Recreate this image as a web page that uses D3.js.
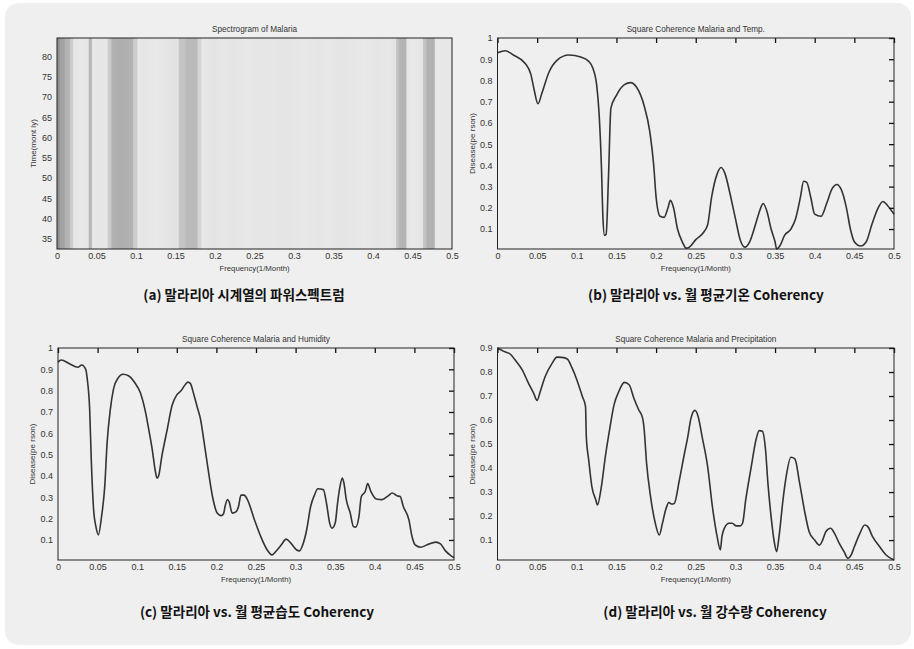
<!DOCTYPE html>
<html>
<head>
<meta charset="utf-8">
<script src="https://cdn.jsdelivr.net/npm/d3@7"></script>
<style>
  body { margin: 0; background: #ffffff; }
  text { font-family: "Liberation Sans", Arial, sans-serif; }
  .cap { font-family: "Noto Sans CJK KR", sans-serif; font-weight: 700; }
</style>
</head>
<body>
<div id="mychart"></div>
<script>
// ---- data ----
var freqTicks = [0, 0.05, 0.1, 0.15, 0.2, 0.25, 0.3, 0.35, 0.4, 0.45, 0.5];
var timeTicks = [35, 40, 45, 50, 55, 60, 65, 70, 75, 80];
var cohTicks10 = [0.1, 0.2, 0.3, 0.4, 0.5, 0.6, 0.7, 0.8, 0.9, 1];
var cohTicks9 = [0.1, 0.2, 0.3, 0.4, 0.5, 0.6, 0.7, 0.8, 0.9];

// spectrogram: relative power per frequency (constant over time)
var specFreq = [0, 0.003, 0.0045, 0.009, 0.0105, 0.0155, 0.017, 0.0195, 0.021, 0.03, 0.0395, 0.041, 0.0435, 0.045,
  0.0635, 0.065, 0.068, 0.0695, 0.08, 0.0955, 0.097, 0.101, 0.1025, 0.11, 0.125, 0.14, 0.1535, 0.155, 0.1625, 0.164,
  0.177, 0.1785, 0.182, 0.1835, 0.19, 0.2, 0.21, 0.225, 0.24, 0.255, 0.27, 0.285, 0.3, 0.315, 0.33, 0.345, 0.36,
  0.375, 0.39, 0.405, 0.42, 0.4285, 0.43, 0.4325, 0.434, 0.4415, 0.443, 0.452, 0.4625, 0.464, 0.467, 0.4685,
  0.4775, 0.479, 0.5];
var specPower = [0.98, 0.92, 0.78, 0.76, 0.6, 0.58, 0.35, 0.33, 0.06, 0.03, 0.05, 0.55, 0.55, 0.04,
  0.05, 0.33, 0.35, 0.6, 0.64, 0.6, 0.33, 0.33, 0.03, 0.06, 0.03, 0.07, 0.1, 0.4, 0.42, 0.52,
  0.52, 0.25, 0.24, 0.03, 0.05, 0.08, 0.04, 0.07, 0.03, 0.06, 0.04, 0.07, 0.05, 0.03, 0.06, 0.04, 0.07,
  0.05, 0.03, 0.06, 0.04, 0.08, 0.42, 0.44, 0.58, 0.58, 0.05, 0.02, 0.06, 0.4, 0.42, 0.6,
  0.6, 0.04, 0.04];

// (b) malaria vs temperature
var freqB = [0, 0.01, 0.02, 0.035, 0.042, 0.046, 0.051, 0.056, 0.065, 0.075, 0.09, 0.105, 0.115, 0.12, 0.125, 0.128,
  0.131, 0.133, 0.135, 0.137, 0.14, 0.143, 0.15, 0.16, 0.168, 0.175, 0.185, 0.192, 0.197, 0.2, 0.205, 0.21, 0.215,
  0.218, 0.222, 0.227, 0.233, 0.238, 0.242, 0.25, 0.26, 0.265, 0.27, 0.277, 0.282, 0.287, 0.293, 0.3, 0.306, 0.312,
  0.318, 0.326, 0.331, 0.335, 0.34, 0.345, 0.35, 0.352, 0.356, 0.362, 0.37, 0.376, 0.382, 0.386, 0.39, 0.395, 0.4,
  0.408, 0.415, 0.422, 0.428, 0.433, 0.44, 0.445, 0.45, 0.458, 0.465, 0.472, 0.48, 0.486, 0.492, 0.5];
var cohB = [0.93, 0.94, 0.92, 0.88, 0.83, 0.76, 0.69, 0.74, 0.84, 0.895, 0.92, 0.91, 0.89, 0.86, 0.78, 0.65,
  0.4, 0.15, 0.07, 0.075, 0.35, 0.67, 0.73, 0.78, 0.79, 0.77, 0.68, 0.56, 0.4, 0.25, 0.16, 0.155, 0.2,
  0.235, 0.2, 0.1, 0.04, 0.01, 0.015, 0.05, 0.085, 0.12, 0.25, 0.36, 0.39, 0.36, 0.27, 0.15, 0.05, 0.015,
  0.04, 0.13, 0.19, 0.22, 0.18, 0.1, 0.04, 0.006, 0.02, 0.07, 0.1, 0.15, 0.25, 0.325, 0.32, 0.25, 0.17,
  0.16, 0.22, 0.29, 0.31, 0.29, 0.2, 0.1, 0.04, 0.02, 0.04, 0.12, 0.2, 0.23, 0.21, 0.17];

// (c) malaria vs humidity
var freqC = [0, 0.004, 0.015, 0.025, 0.03, 0.035, 0.037, 0.04, 0.042, 0.045, 0.048, 0.051, 0.055, 0.059, 0.062,
  0.066, 0.07, 0.076, 0.082, 0.089, 0.097, 0.104, 0.111, 0.114, 0.119, 0.123, 0.125, 0.127, 0.131, 0.138, 0.144,
  0.15, 0.155, 0.161, 0.164, 0.167, 0.172, 0.176, 0.18, 0.184, 0.189, 0.195, 0.201, 0.206, 0.209, 0.211, 0.214,
  0.216, 0.22, 0.225, 0.228, 0.231, 0.235, 0.239, 0.248, 0.256, 0.264, 0.27, 0.275, 0.282, 0.288, 0.294, 0.301,
  0.305, 0.309, 0.314, 0.319, 0.324, 0.328, 0.335, 0.339, 0.343, 0.346, 0.35, 0.353, 0.356, 0.359, 0.361, 0.364,
  0.369, 0.373, 0.376, 0.38, 0.383, 0.388, 0.391, 0.395, 0.402, 0.409, 0.417, 0.422, 0.428, 0.432, 0.436, 0.443,
  0.447, 0.451, 0.458, 0.466, 0.477, 0.483, 0.489, 0.496, 0.5];
var cohC = [0.934, 0.944, 0.925, 0.91, 0.92, 0.9, 0.853, 0.71, 0.477, 0.24, 0.16, 0.124, 0.21, 0.35, 0.555,
  0.71, 0.806, 0.86, 0.877, 0.87, 0.837, 0.79, 0.69, 0.63, 0.524, 0.42, 0.39, 0.4, 0.49, 0.62, 0.73,
  0.78, 0.798, 0.83, 0.84, 0.834, 0.775, 0.72, 0.665, 0.57, 0.445, 0.305, 0.226, 0.214, 0.223, 0.258, 0.29,
  0.28, 0.226, 0.233, 0.258, 0.31, 0.31, 0.29, 0.195, 0.116, 0.054, 0.03, 0.046, 0.077, 0.104, 0.085, 0.054,
  0.049, 0.077, 0.148, 0.257, 0.312, 0.34, 0.336, 0.273, 0.179, 0.155, 0.179, 0.273, 0.35, 0.39, 0.367, 0.289,
  0.226, 0.163, 0.16, 0.21, 0.304, 0.328, 0.364, 0.328, 0.292, 0.289, 0.307, 0.32, 0.307, 0.304, 0.257, 0.195,
  0.116, 0.077, 0.066, 0.077, 0.09, 0.082, 0.05, 0.027, 0.017];

// (d) malaria vs precipitation
var freqD = [0, 0.008, 0.016, 0.022, 0.031, 0.039, 0.0455, 0.05, 0.054, 0.06, 0.069, 0.075, 0.081, 0.088, 0.094,
  0.1, 0.107, 0.111, 0.112, 0.115, 0.119, 0.124, 0.126, 0.131, 0.136, 0.142, 0.147, 0.153, 0.16, 0.166, 0.172,
  0.178, 0.183, 0.185, 0.188, 0.193, 0.199, 0.204, 0.208, 0.212, 0.216, 0.22, 0.223, 0.229, 0.235, 0.24, 0.244,
  0.249, 0.253, 0.258, 0.265, 0.271, 0.277, 0.281, 0.283, 0.286, 0.292, 0.296, 0.301, 0.306, 0.309, 0.313, 0.32,
  0.326, 0.33, 0.334, 0.338, 0.341, 0.345, 0.349, 0.352, 0.355, 0.36, 0.364, 0.37, 0.375, 0.381, 0.387, 0.393,
  0.4, 0.406, 0.41, 0.414, 0.42, 0.425, 0.431, 0.437, 0.442, 0.446, 0.45, 0.457, 0.463, 0.467, 0.473, 0.482,
  0.49, 0.5];
var cohD = [0.9, 0.886, 0.875, 0.851, 0.81, 0.754, 0.712, 0.682, 0.72, 0.78, 0.837, 0.862, 0.861, 0.854, 0.817,
  0.768, 0.698, 0.657, 0.531, 0.434, 0.323, 0.267, 0.246, 0.323, 0.448, 0.573, 0.664, 0.719, 0.757, 0.747, 0.691,
  0.643, 0.608, 0.559, 0.42, 0.281, 0.17, 0.121, 0.17, 0.225, 0.256, 0.25, 0.253, 0.344, 0.448, 0.531, 0.608,
  0.64, 0.615, 0.531, 0.406, 0.239, 0.114, 0.059, 0.114, 0.149, 0.17, 0.17, 0.159, 0.159, 0.17, 0.267, 0.406,
  0.518, 0.556, 0.553, 0.476, 0.337, 0.198, 0.093, 0.052, 0.114, 0.267, 0.364, 0.445, 0.438, 0.337, 0.225, 0.135,
  0.1, 0.079, 0.1, 0.135, 0.149, 0.128, 0.086, 0.052, 0.024, 0.038, 0.072, 0.128, 0.163, 0.156, 0.114, 0.072,
  0.038, 0.017];

// ---- layout ----
var W = 914, H = 649;
var svg = d3.select("#mychart")
  .append("svg")
    .attr("width", W)
    .attr("height", H);

svg.append("rect")
  .attr("x", 5).attr("y", 3)
  .attr("width", 906).attr("height", 642)
  .attr("rx", 14)
  .attr("fill", "#efefef");

function fmt(d) { return String(+d.toFixed(2)); }

// one panel: box, axes, title and labels; returns the scales and inner group
function makePanel(p) {
  var w = p.right - p.left, h = p.bottom - p.top;
  var g = svg.append("g").attr("transform", "translate(" + p.left + "," + p.top + ")");
  var x = d3.scaleLinear().domain([0, 0.5]).range([0, w]);
  var y = d3.scaleLinear().domain(p.ydomain).range([h, 0]);

  // x tick labels
  g.append("g")
    .attr("transform", "translate(0," + h + ")")
    .call(d3.axisBottom(x).tickValues(freqTicks).tickFormat(fmt).tickSize(0).tickPadding(4))
    .call(function(s) { s.select(".domain").remove(); })
    .selectAll("text")
      .attr("font-size", 9).attr("font-family", "Liberation Sans, Arial, sans-serif").attr("fill", "#333");

  // y tick labels
  g.append("g")
    .call(d3.axisLeft(y).tickValues(p.yticks).tickFormat(fmt).tickSize(0).tickPadding(5))
    .call(function(s) { s.select(".domain").remove(); })
    .selectAll("text")
      .attr("font-size", 9).attr("font-family", "Liberation Sans, Arial, sans-serif").attr("fill", "#333");

  g.append("text")
    .attr("x", w / 2).attr("y", -6)
    .attr("text-anchor", "middle")
    .attr("font-size", 8.2).attr("fill", "#333")
    .text(p.title);

  g.append("text")
    .attr("x", w / 2).attr("y", h + 22)
    .attr("text-anchor", "middle")
    .attr("font-size", 7.8).attr("fill", "#333")
    .text("Frequency(1/Month)");

  g.append("text")
    .attr("transform", "translate(" + (p.ylabX - p.left) + "," + (h / 2) + ") rotate(-90)")
    .attr("text-anchor", "middle")
    .attr("font-size", 8).attr("fill", "#333")
    .text(p.ylabel);

  svg.append("text")
    .attr("class", "cap")
    .attr("x", p.capX).attr("y", p.capY)
    .attr("text-anchor", "middle")
    .attr("font-size", 13.5).attr("fill", "#111")
    .text(p.caption);

  return {g: g, x: x, y: y, w: w, h: h};
}

function finishBox(P, ticks, yticks) {
  if (ticks) {
    // inward ticks on top and right
    P.g.append("g")
      .call(d3.axisTop(P.x).tickValues(freqTicks).tickSize(-5).tickFormat(""))
      .call(function(s) { s.select(".domain").remove(); })
      .selectAll("line").attr("stroke", "#111").attr("stroke-width", 1.3);
    P.g.append("g")
      .attr("transform", "translate(" + P.w + ",0)")
      .call(d3.axisRight(P.y).tickValues(yticks).tickSize(-5).tickFormat(""))
      .call(function(s) { s.select(".domain").remove(); })
      .selectAll("line").attr("stroke", "#111").attr("stroke-width", 1.3);
  }
  P.g.append("rect")
    .attr("width", P.w).attr("height", P.h)
    .attr("fill", "none")
    .attr("stroke", "#222").attr("stroke-width", 1);
}

// (a) spectrogram
var A = makePanel({left: 57, top: 38, right: 452, bottom: 249, ydomain: [32.5, 84.5], yticks: timeTicks,
  title: "Spectrogram of Malaria", ylabel: "Time(mont ly)", ylabX: 36,
  caption: "(a) 말라리아 시계열의 파워스펙트럼", capX: 244, capY: 300});

var gray = d3.scaleLinear().domain([0, 1]).range(["#ebebeb", "#8c8c8c"]);
var grad = svg.append("defs").append("linearGradient")
  .attr("id", "specGrad")
  .attr("gradientUnits", "userSpaceOnUse")
  .attr("x1", A.x(0)).attr("x2", A.x(0.5)).attr("y1", 0).attr("y2", 0);
grad.selectAll("stop")
  .data(specFreq)
  .enter().append("stop")
    .attr("offset", function(d) { return (A.x(d) - A.x(0)) / (A.x(0.5) - A.x(0)); })
    .attr("stop-color", function(d, i) { return gray(specPower[i]); });

A.g.append("rect")
  .attr("x", A.x(0)).attr("y", A.y(84.5))
  .attr("width", A.x(0.5) - A.x(0))
  .attr("height", A.y(32.5) - A.y(84.5))
  .attr("fill", "url(#specGrad)");
finishBox(A, false);

// coherence panels
var cohPanels = [
  {left: 497.5, top: 38, right: 894, bottom: 249, ydomain: [0.006, 1], yticks: cohTicks10,
   title: "Square Coherence Malaria and Temp.", ylabel: "Disease(pe rson)", ylabX: 475,
   caption: "(b) 말라리아 vs. 월 평균기온 Coherency", capX: 706, capY: 300, fx: freqB, fy: cohB},
  {left: 58, top: 348, right: 454, bottom: 560, ydomain: [0.006, 1], yticks: cohTicks10,
   title: "Square Coherence Malaria and Humidity", ylabel: "Disease(pe rson)", ylabX: 35,
   caption: "(c) 말라리아 vs. 월 평균습도 Coherency", capX: 257, capY: 617, fx: freqC, fy: cohC},
  {left: 497.5, top: 348, right: 894, bottom: 560, ydomain: [0.017, 0.9], yticks: cohTicks9,
   title: "Square Coherence Malaria and Precipitation", ylabel: "Disease(pe rson)", ylabX: 475,
   caption: "(d) 말라리아 vs. 월 강수량 Coherency", capX: 715, capY: 617, fx: freqD, fy: cohD}
];

cohPanels.forEach(function(p) {
  var P = makePanel(p);
  var pts = p.fx.map(function(f, i) { return [f, p.fy[i]]; });
  P.g.append("path")
    .datum(pts)
    .attr("fill", "none")
    .attr("stroke", "#333")
    .attr("stroke-width", 1.6)
    .attr("stroke-linejoin", "round")
    .attr("d", d3.line()
      .curve(d3.curveMonotoneX)
      .x(function(d) { return P.x(d[0]); })
      .y(function(d) { return P.y(d[1]); }));
  finishBox(P, true, p.yticks);
});
</script>
</body>
</html>
